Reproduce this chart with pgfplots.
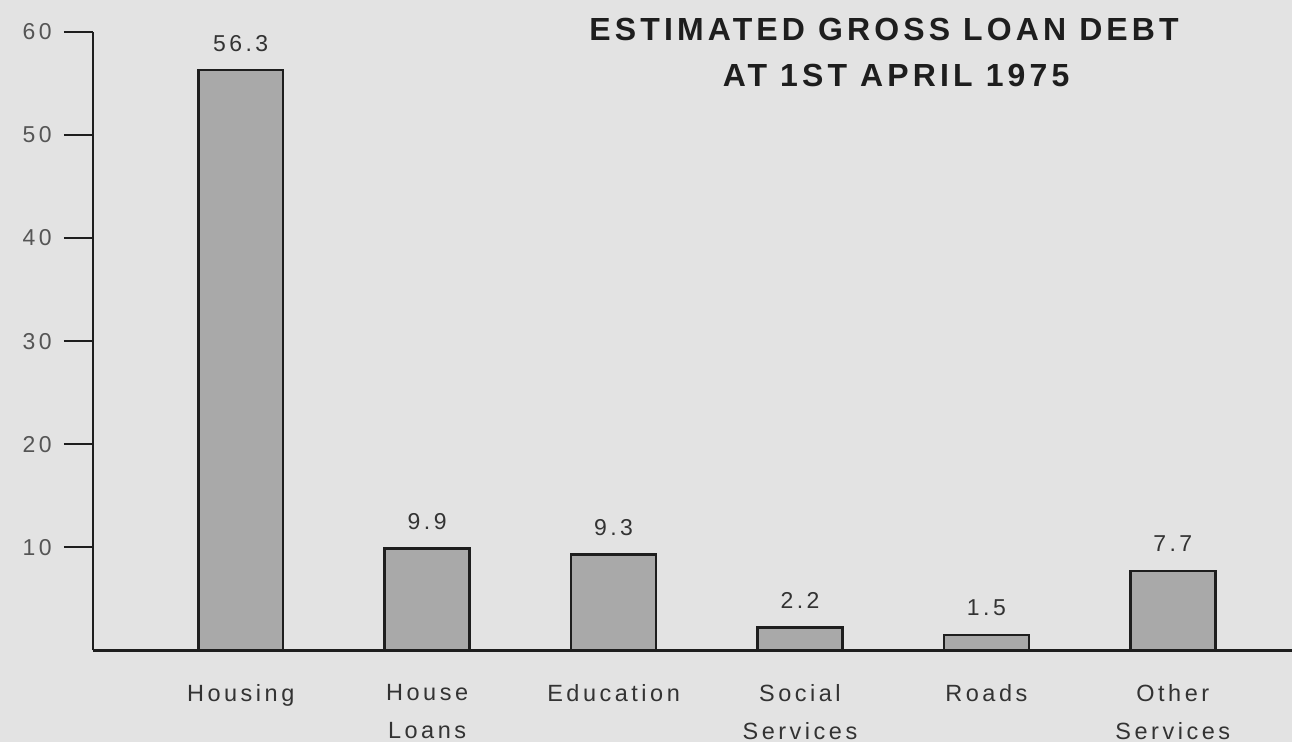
\documentclass[border=0pt]{standalone}
\usepackage{fontspec}
\setmainfont{Liberation Sans}
\newfontfamily\lab[LetterSpace=15]{Liberation Sans}
\newfontfamily\ttl[LetterSpace=13]{Liberation Sans}
\usepackage{pgfplots}
\pgfplotsset{compat=1.18}
\definecolor{bg}{HTML}{E3E3E3}
\definecolor{barfill}{HTML}{A9A9A9}
\definecolor{ink}{HTML}{1E1E1E}
\definecolor{txt}{HTML}{333333}
\definecolor{ticktxt}{HTML}{555555}
\begin{document}
\begin{tikzpicture}
\fill[bg] (-93pt,-92pt) rectangle (1200pt,651pt);
\begin{axis}[
  scale only axis, width=1200pt, height=619pt,
  xmin=-0.793, xmax=5.638, ymin=0, ymax=60,
  axis x line*=bottom, axis y line*=left,
  axis line style={line width=2.6pt, color=ink},
  ybar, bar width=85pt,
  ytick={10,20,30,40,50,60},
  xtick={0,1,2,3,4,5},
  xticklabels={{Housing},{House\\Loans},{Education},{Social\\Services},{Roads},{Other\\Services}},
  xtick style={draw=none},
  ytick style={line width=2pt, color=ink},
  tick align=outside, major tick length=29pt,
  /pgf/number format/assume math mode=true,
  yticklabel style={font=\lab\fontsize{23}{28}\selectfont, text=ticktxt, inner sep=0pt, xshift=-12pt},
  xticklabel style={font=\lab\fontsize{23.5}{38}\selectfont, text=txt, inner sep=0pt, align=center, anchor=north, yshift=-5pt},
  nodes near coords={\pgfmathprintnumber[fixed,fixed zerofill,precision=1]{\pgfplotspointmeta}},
  every node near coord/.append style={font=\lab\fontsize{23}{28}\selectfont, text=txt, anchor=base, inner sep=0pt, yshift=19pt},
  clip=false,
]
\addplot[fill=barfill, draw=ink, line width=2.6pt] coordinates {(0,56.3) (1,9.9) (2,9.3) (3,2.2) (4,1.5) (5,7.7)};
\end{axis}
\node[font=\ttl\bfseries\fontsize{32}{38}\selectfont, text=ink, anchor=base] at (792pt,610pt) {ESTIMATED GROSS LOAN DEBT};
\node[font=\ttl\bfseries\fontsize{32}{38}\selectfont, text=ink, anchor=base] at (804pt,564pt) {AT 1ST APRIL 1975};
\end{tikzpicture}
\end{document}
